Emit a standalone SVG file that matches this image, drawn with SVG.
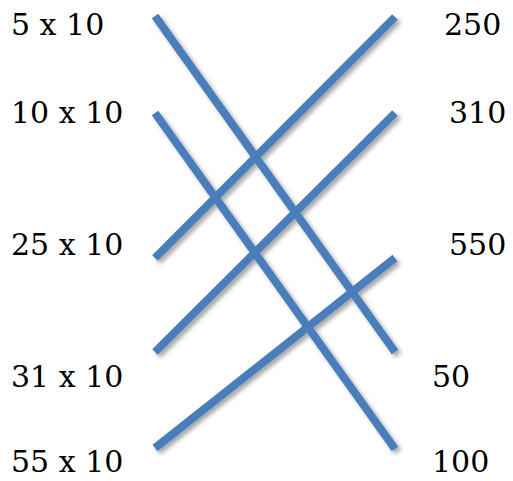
<svg xmlns="http://www.w3.org/2000/svg" width="513" height="481" viewBox="0 0 513 481">
<style>
.t{font-family:"DejaVu Serif","Liberation Serif",serif;font-size:30px;fill:#000}
.c line{stroke:#4a7ebb;stroke-width:8;stroke-linecap:butt}
</style>
<defs>
<filter id="sh" x="-20%" y="-20%" width="140%" height="140%">
<feDropShadow dx="3" dy="3" stdDeviation="2" flood-color="#000" flood-opacity="0.35"/>
</filter>
</defs>
<rect width="513" height="481" fill="#fff"/>
<g id="connectors" class="c" filter="url(#sh)">
<line x1="155" y1="16" x2="395" y2="352"/>
<line x1="155" y1="113" x2="395" y2="449"/>
<line x1="155" y1="258" x2="395" y2="17"/>
<line x1="155" y1="352" x2="395" y2="113"/>
<line x1="155" y1="448" x2="395" y2="258"/>
</g>
<g id="l1"><text class="t" x="11" y="35">5 x 10</text></g>
<g id="l2"><text class="t" x="11" y="123">10 x 10</text></g>
<g id="l3"><text class="t" x="11" y="255">25 x 10</text></g>
<g id="l4"><text class="t" x="11" y="387">31 x 10</text></g>
<g id="l5"><text class="t" x="11" y="472">55 x 10</text></g>
<g id="r1"><text class="t" x="444" y="35">250</text></g>
<g id="r2"><text class="t" x="449" y="123">310</text></g>
<g id="r3"><text class="t" x="449" y="255">550</text></g>
<g id="r4"><text class="t" x="432" y="387">50</text></g>
<g id="r5"><text class="t" x="432" y="472">100</text></g>
</svg>
